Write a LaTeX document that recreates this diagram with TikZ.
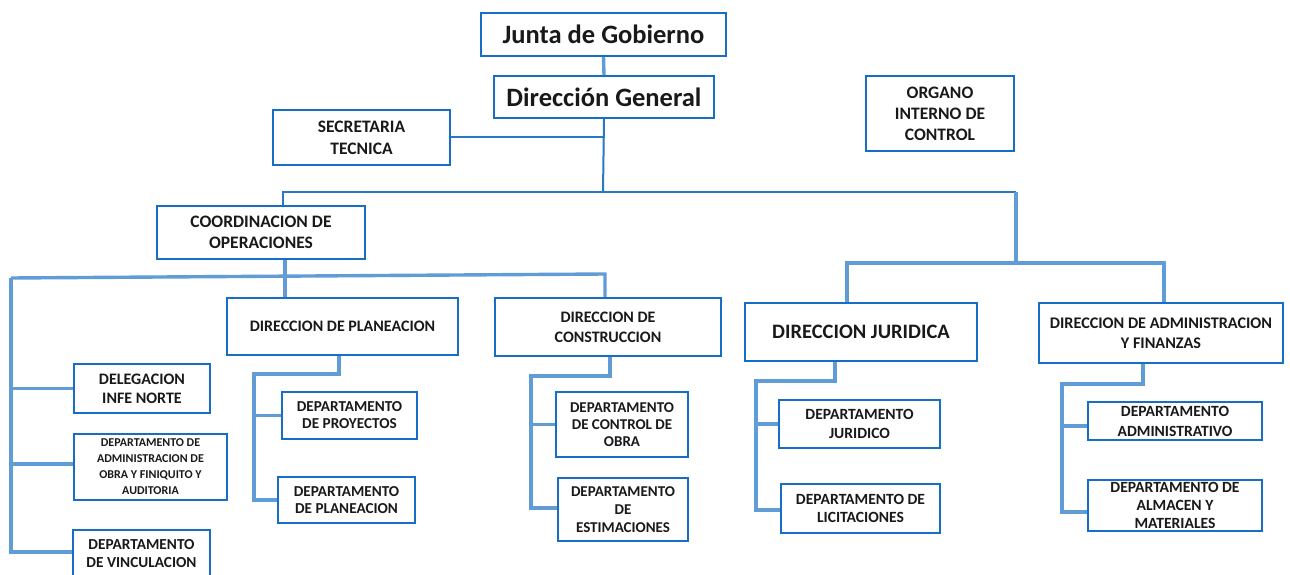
\documentclass[tikz,border=0pt]{standalone}
\usepackage{fontspec}
\setmainfont{Carlito}
\usetikzlibrary{backgrounds}
\definecolor{boxblue}{RGB}{22,110,198}
\definecolor{linkblue}{RGB}{96,156,214}
\definecolor{thinblue}{RGB}{38,120,200}
\definecolor{ink}{RGB}{25,25,25}
\tikzset{
  orgbox/.style={draw=boxblue, line width=2pt, fill=white, inner sep=0pt, align=center, text=ink, font=\bfseries\fontsize{15.3}{18}\selectfont},
  conn/.style={draw=linkblue, line width=3.4pt, line join=miter},
  thinconn/.style={draw=thinblue, line width=2pt},
}
\begin{document}
\begin{tikzpicture}[x=1pt,y=-1pt]
\useasboundingbox (0,0) rectangle (1290,575);

% top
\node[orgbox, minimum width=245, minimum height=43, font=\bfseries\fontsize{26.5}{30}\selectfont] (junta) at (603.5,34.5) {Junta de Gobierno};
\node[orgbox, minimum width=220, minimum height=42, font=\bfseries\fontsize{26.5}{30}\selectfont] (dg) at (604,97) {Dirección General};
\node[orgbox, minimum width=177, minimum height=55, font=\bfseries\fontsize{17.5}{22}\selectfont] (sec) at (361.5,137.5) {SECRETARIA\\TECNICA};
\node[orgbox, minimum width=148, minimum height=75, font=\bfseries\fontsize{17.5}{21}\selectfont] (oic) at (940,113.5) {ORGANO\\INTERNO DE\\CONTROL};
\node[orgbox, minimum width=208, minimum height=53, font=\bfseries\fontsize{17.5}{21}\selectfont] (coord) at (261,232.5) {COORDINACION DE\\OPERACIONES};

% second level
\node[orgbox, minimum width=231, minimum height=57, font=\bfseries\fontsize{16}{20}\selectfont] (dplan) at (342.5,326.5) {DIRECCION DE PLANEACION};
\node[orgbox, minimum width=226, minimum height=58, font=\bfseries\fontsize{16}{20}\selectfont] (dcons) at (608,327) {DIRECCION DE\\CONSTRUCCION};
\node[orgbox, minimum width=232, minimum height=58, font=\bfseries\fontsize{20.5}{24}\selectfont] (djur) at (861,332) {DIRECCION JURIDICA};
\node[orgbox, minimum width=244, minimum height=60, font=\bfseries\fontsize{16.2}{20}\selectfont] (daf) at (1161,333) {DIRECCION DE ADMINISTRACION\\Y FINANZAS};

% left column
\node[orgbox, minimum width=136, minimum height=49, font=\bfseries\fontsize{16}{19}\selectfont] (deleg) at (142,388.5) {DELEGACION\\INFE NORTE};
\node[orgbox, minimum width=153, minimum height=66, font=\bfseries\fontsize{12}{16}\selectfont] (dao) at (150.5,467) {DEPARTAMENTO DE\\ADMINISTRACION DE\\OBRA Y FINIQUITO Y\\AUDITORIA};
\node[orgbox, minimum width=137, minimum height=48] (dvinc) at (141.5,554) {DEPARTAMENTO\\DE VINCULACION};

% departments
\node[orgbox, minimum width=135, minimum height=47, font=\bfseries\fontsize{15.2}{17}\selectfont] (dproy) at (349.5,415.5) {DEPARTAMENTO\\DE PROYECTOS};
\node[orgbox, minimum width=137, minimum height=46, font=\bfseries\fontsize{15.2}{17}\selectfont] (dplan2) at (346.5,500) {DEPARTAMENTO\\DE PLANEACION};
\node[orgbox, minimum width=132, minimum height=65, font=\bfseries\fontsize{15}{17}\selectfont] (dcontrol) at (622,424.5) {DEPARTAMENTO\\DE CONTROL DE\\OBRA};
\node[orgbox, minimum width=130, minimum height=63, font=\bfseries\fontsize{15}{18}\selectfont] (destim) at (623,509.5) {DEPARTAMENTO\\DE\\ESTIMACIONES};
\node[orgbox, minimum width=161, minimum height=48, font=\bfseries\fontsize{15.6}{19}\selectfont] (djuri2) at (859.5,424) {DEPARTAMENTO\\JURIDICO};
\node[orgbox, minimum width=159, minimum height=49, font=\bfseries\fontsize{15.6}{18}\selectfont] (dlic) at (860.5,508.5) {DEPARTAMENTO DE\\LICITACIONES};
\node[orgbox, minimum width=174, minimum height=38, font=\bfseries\fontsize{15.6}{20}\selectfont] (dadm) at (1175,421) {DEPARTAMENTO\\ADMINISTRATIVO};
\node[orgbox, minimum width=174, minimum height=51, font=\bfseries\fontsize{15.6}{18}\selectfont] (dalm) at (1175,505.5) {DEPARTAMENTO DE\\ALMACEN Y\\MATERIALES};

\coordinate (hub) at (603,192);
\coordinate (rb) at (1016,192);
\coordinate (rj) at (1016,263);
\coordinate (lb) at (11,278);
\coordinate (cb) at (605,274);

\begin{scope}[on background layer]
% top links
\draw[conn] (junta.south) -- (dg.north);
\draw[thinconn] (dg.south) -- (hub);
\draw[thinconn] (sec.east) -- (sec.east -| hub);
\draw[thinconn] ([xshift=22]coord.north) |- (rb);
\draw[conn] (rb) -- (rj);
\draw[conn] ([xshift=-14]djur.north) |- (rj) -| ([xshift=3]daf.north);
% coordinacion
\draw[conn] ([xshift=24]coord.south) -- ([xshift=-57.5]dplan.north);
\draw[conn] (lb) -- (cb) -- ([xshift=-3]dcons.north);
\draw[conn] (lb) |- ([yshift=2]dvinc.west);
\draw[conn] (deleg.west) -- (deleg.west -| lb);
\draw[conn] ([yshift=3]dao.west) -- ([yshift=3]dao.west -| lb);
% planeacion
\draw[conn] ([xshift=-3.5]dplan.south) -- ++(0,18) -| ([xshift=-23]dplan2.west) -- (dplan2.west);
\draw[conn] (dproy.west) -- ++(-27,0);
% construccion
\draw[conn] ([xshift=2]dcons.south) -- ++(0,19) -| ([xshift=-26,yshift=1.5]destim.west) -- ([yshift=1.5]destim.west);
\draw[conn] (dcontrol.west) -- ++(-24,0);
% juridica
\draw[conn] ([xshift=-26]djur.south) -- ++(0,19) -| ([xshift=-24,yshift=-1.5]dlic.west) -- ([yshift=-1.5]dlic.west);
\draw[conn] (djuri2.west) -- ++(-22,0);
% administracion y finanzas
\draw[conn] ([xshift=-18]daf.south) -- ++(0,20) -| ([xshift=-25,yshift=-6.5]dalm.west) -- ([yshift=-6.5]dalm.west);
\draw[conn] ([yshift=-5]dadm.west) -- ++(-25,0);
\end{scope}
\end{tikzpicture}
\end{document}
